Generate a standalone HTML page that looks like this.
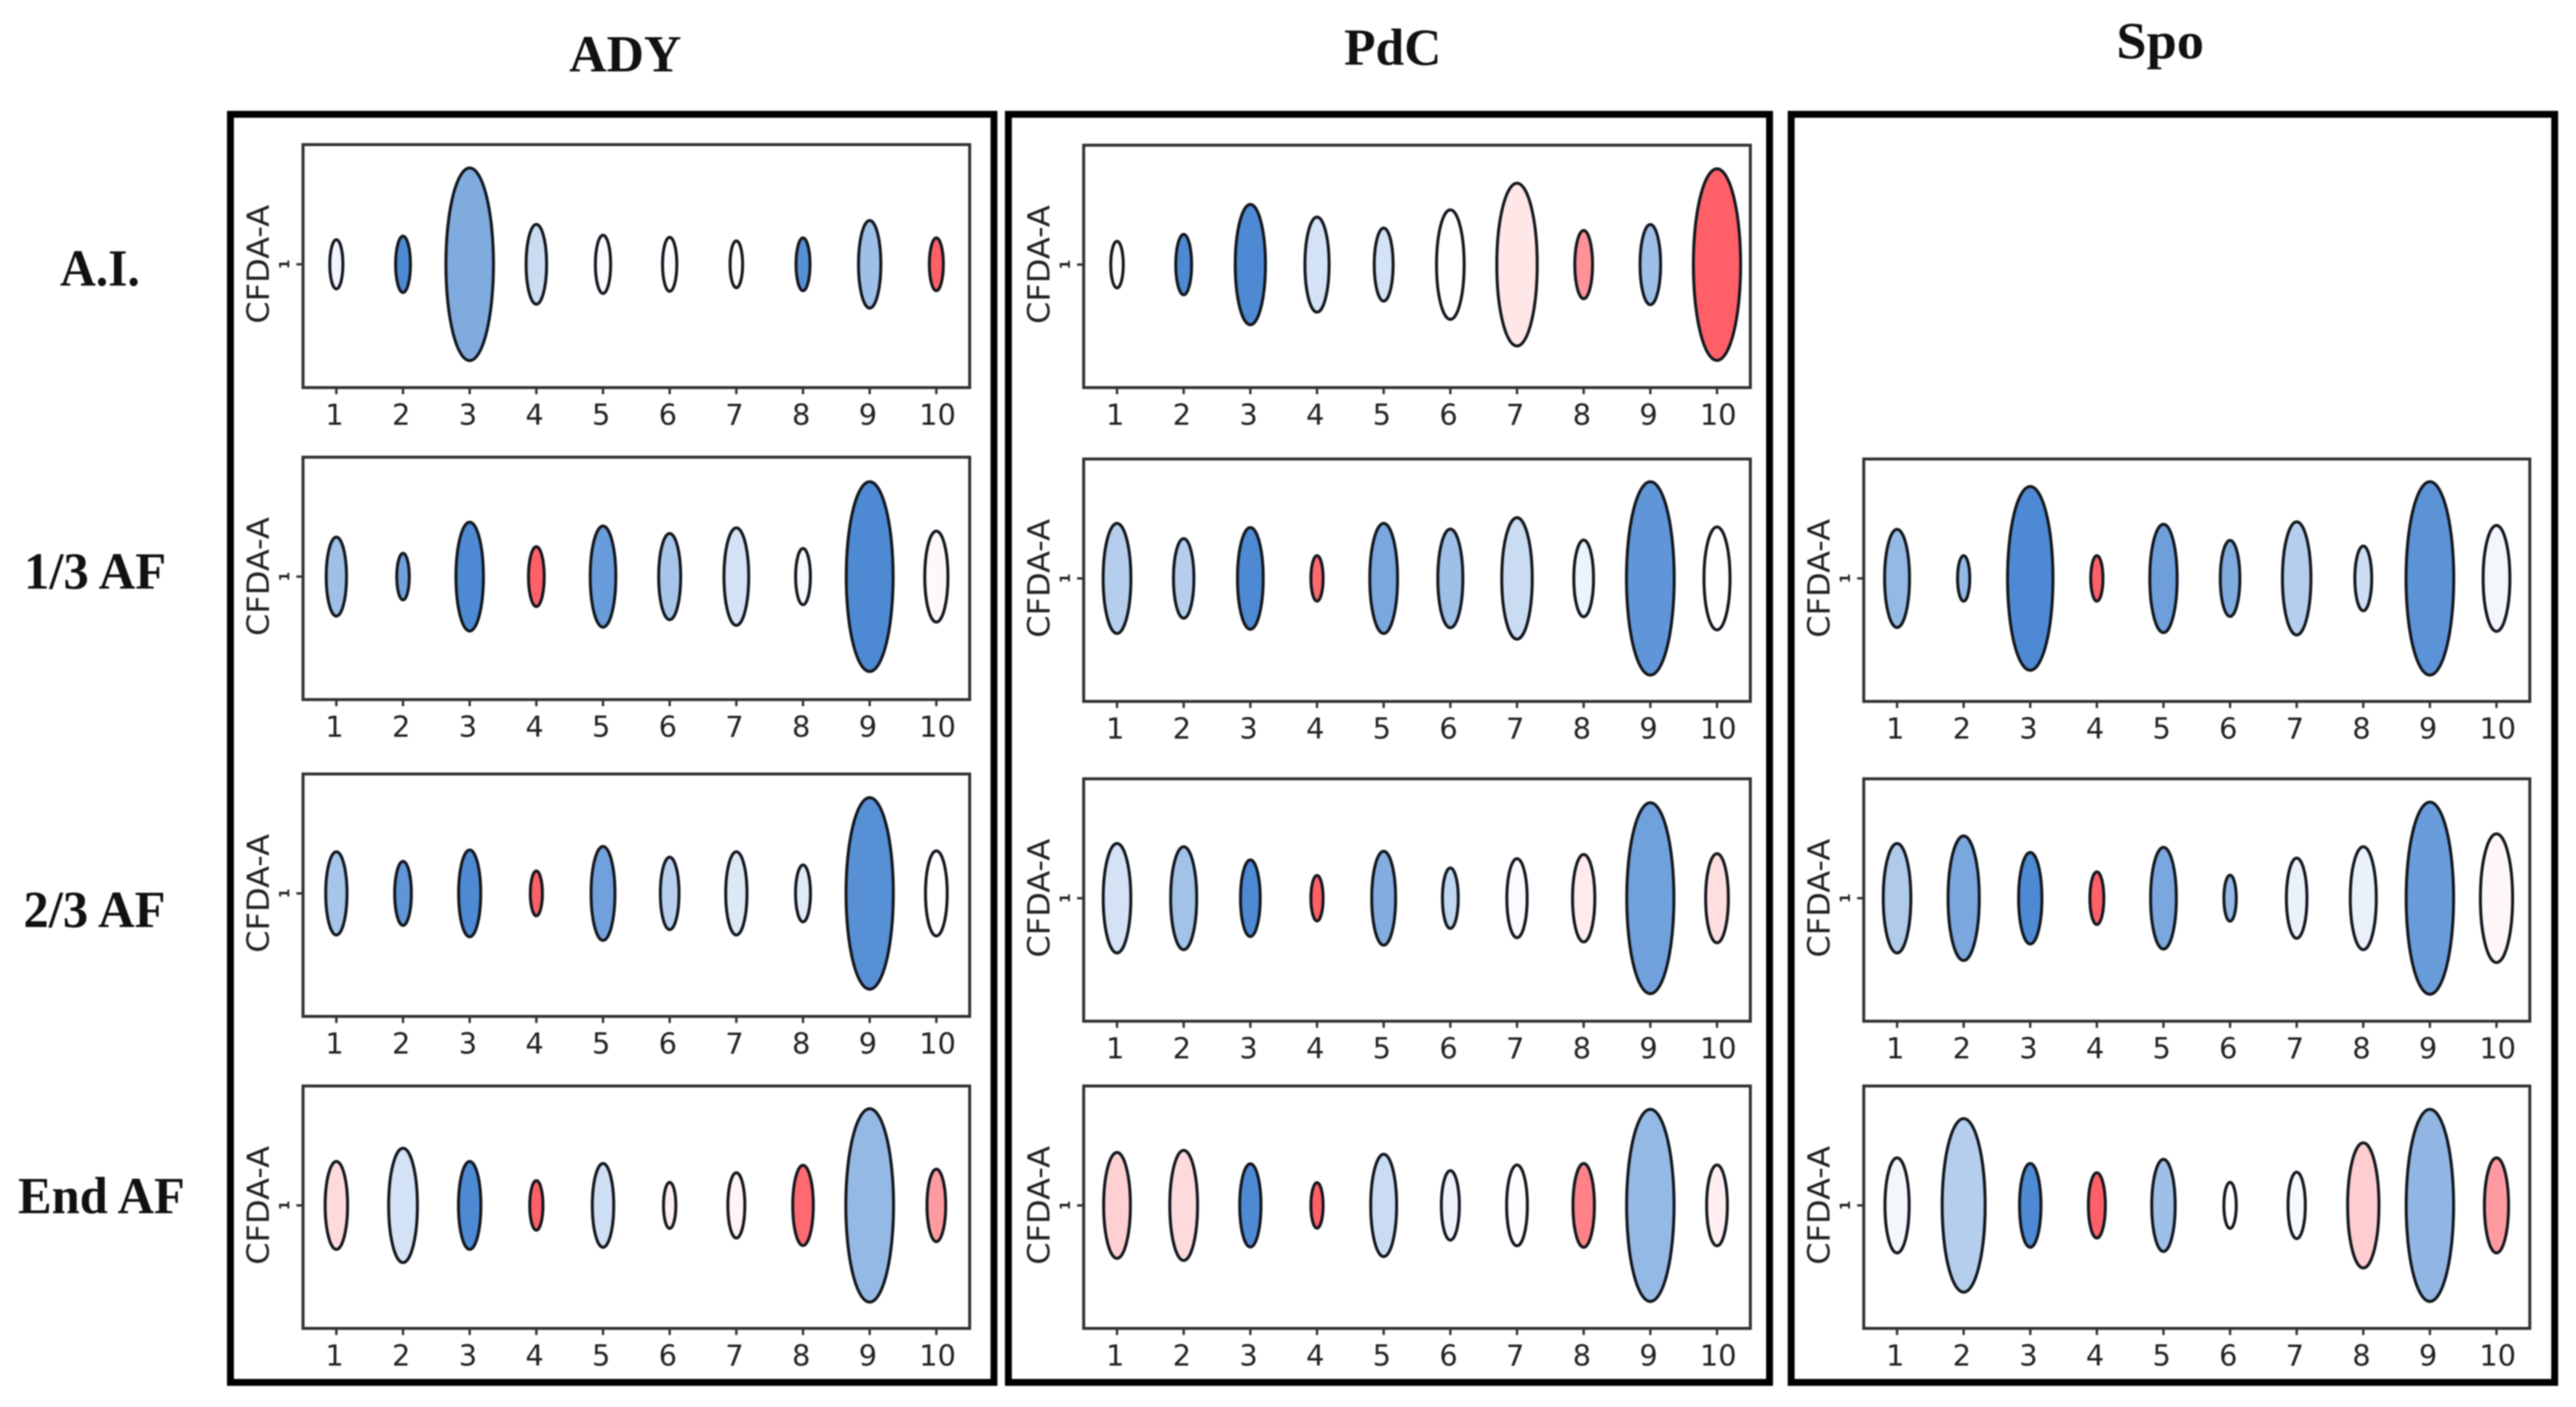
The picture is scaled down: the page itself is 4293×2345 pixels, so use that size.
<!DOCTYPE html>
<html lang="en">
<head>
<meta charset="utf-8">
<title>CFDA-A viability panels</title>
<style>
html,body{margin:0;padding:0;background:#fff;width:4293px;height:2345px;overflow:hidden}
svg{display:block;filter:blur(1px)}
.head{font-family:"Liberation Serif",serif;font-weight:bold;font-size:87px;fill:#111}
.tick{font-family:"DejaVu Sans",sans-serif;font-size:48px;fill:#222;text-anchor:middle}
.ylab{font-family:"DejaVu Sans",sans-serif;font-size:51px;fill:#222;text-anchor:middle}
.ytick{font-family:"DejaVu Sans",sans-serif;font-size:23px;font-weight:bold;fill:#222;text-anchor:middle}
</style>
</head>
<body>
<svg id="figure" xmlns="http://www.w3.org/2000/svg" width="4293" height="2345" viewBox="0 0 4293 2345">
  <rect x="0" y="0" width="4293" height="2345" fill="#fff"/>
  <text class="head" x="1042" y="119" text-anchor="middle" textLength="187" lengthAdjust="spacingAndGlyphs">ADY</text>
  <text class="head" x="2321" y="108" text-anchor="middle" textLength="162" lengthAdjust="spacingAndGlyphs">PdC</text>
  <text class="head" x="3600" y="97" text-anchor="middle" textLength="146" lengthAdjust="spacingAndGlyphs">Spo</text>
  <text class="head" x="100" y="476" textLength="133" lengthAdjust="spacingAndGlyphs">A.I.</text>
  <text class="head" x="40" y="981" textLength="237" lengthAdjust="spacingAndGlyphs">1/3 AF</text>
  <text class="head" x="39" y="1545" textLength="237" lengthAdjust="spacingAndGlyphs">2/3 AF</text>
  <text class="head" x="30" y="2022" textLength="278" lengthAdjust="spacingAndGlyphs">End AF</text>
  <rect x="384" y="190.5" width="1272.5" height="2113.5" fill="none" stroke="#000" stroke-width="11.5"/>
  <rect x="1680.5" y="190.5" width="1268.5" height="2113.5" fill="none" stroke="#000" stroke-width="11.5"/>
  <rect x="2985" y="190.5" width="1272.5" height="2113.5" fill="none" stroke="#000" stroke-width="11.5"/>
  <g id="plots"></g>
</svg>
<script>
// Categories and tick labels
const categories = [1, 2, 3, 4, 5, 6, 7, 8, 9, 10];
const tickLabels = ["1", "2", "3", "4", "5", "6", "7", "8", "9", "10"];
const yTickLabel = "1";
const yAxisTitle = "CFDA-A";

// Spread of each population (axis units, full y axis = 405)
const spreadAdyAI  = [87, 99, 326, 138, 102, 95, 83, 93, 151, 93];
const spreadAdy13  = [137, 83, 187, 105, 174, 149, 168, 99, 322, 157];
const spreadAdy23  = [144, 112, 150, 80, 162, 126, 144, 100, 325, 147];
const spreadAdyEnd = [152, 196, 152, 88, 145, 82, 114, 139, 328, 126];
const spreadPdcAI  = [83, 106, 206, 164, 127, 188, 277, 119, 139, 325];
const spreadPdc13  = [189, 138, 175, 81, 189, 170, 208, 133, 328, 177];
const spreadPdc23  = [188, 177, 133, 81, 162, 106, 137, 151, 324, 154];
const spreadPdcEnd = [182, 189, 144, 81, 176, 121, 140, 145, 326, 140];
const spreadSpo13  = [169, 81, 312, 81, 186, 132, 194, 113, 328, 182];
const spreadSpo23  = [188, 213, 158, 93, 175, 82, 139, 177, 326, 220];
const spreadSpoEnd = [164, 295, 145, 114, 159, 82, 116, 214, 326, 164];

// Diverging colour value of each population (-1 blue .. 0 white .. +1 red)
const shadeAdyAI  = [-0.08, -1, -0.72, -0.3, -0.03, -0.02, -0.01, -0.95, -0.55, 0.95];
const shadeAdy13  = [-0.55, -0.8, -1, 0.95, -0.85, -0.5, -0.25, -0.05, -1, 0.04];
const shadeAdy23  = [-0.5, -0.9, -1, 0.95, -0.8, -0.4, -0.2, -0.17, -0.95, 0];
const shadeAdyEnd = [0.22, -0.25, -1, 0.95, -0.27, 0.1, 0.07, 0.9, -0.6, 0.6];
const shadePdcAI  = [0, -1, -1, -0.25, -0.25, 0, 0.15, 0.65, -0.55, 0.95];
const shadePdc13  = [-0.42, -0.42, -1, 0.9, -0.75, -0.55, -0.3, -0.1, -0.9, 0];
const shadePdc23  = [-0.25, -0.52, -1, 0.95, -0.7, -0.35, -0.03, 0.12, -0.8, 0.2];
const shadePdcEnd = [0.28, 0.22, -1, 0.95, -0.3, -0.1, -0.02, 0.75, -0.6, 0.1];
const shadeSpo13  = [-0.6, -0.6, -1, 0.95, -0.82, -0.72, -0.42, -0.28, -0.92, -0.07];
const shadeSpo23  = [-0.45, -0.75, -1, 0.95, -0.75, -0.6, -0.12, -0.12, -0.85, 0.05];
const shadeSpoEnd = [-0.07, -0.42, -1, 0.95, -0.55, 0, -0.05, 0.3, -0.62, 0.6];

const yDomain = 405;
const xDomain = [0.5, 10.5];

const NS = "http://www.w3.org/2000/svg";
const root = document.getElementById("plots");

function svgEl(tag, attrs, parent) {
  const el = document.createElementNS(NS, tag);
  for (const k in attrs) el.setAttribute(k, attrs[k]);
  parent.appendChild(el);
  return el;
}
function xScale(cat, box) {
  return box.x0 + (cat - xDomain[0]) / (xDomain[1] - xDomain[0]) * (box.x1 - box.x0);
}
function yLength(v, box) {
  return v / yDomain * (box.y1 - box.y0);
}
function shadeColor(v) {
  const target = v < 0 ? [78, 138, 211] : [255, 88, 96];
  const t = Math.min(1, Math.abs(v));
  const c = target.map(function (ch) { return Math.round(255 + (ch - 255) * t); });
  return "rgb(" + c.join(",") + ")";
}

function drawPanel(name, box, spread, shade) {
  const g = svgEl("g", {}, root);
  
  

  const cy = (box.y0 + box.y1) / 2 - 3;

  categories.forEach(function (cat, i) {
    const h = yLength(spread[i], box);
    const w = 6 + 0.24 * h;
    const cell = svgEl("ellipse", {
      cx: xScale(cat, box), cy: cy,
      rx: Math.max(1, w / 2 - 2.5), ry: Math.max(1, h / 2 - 2.5),
      fill: shadeColor(shade[i]), stroke: "#14181f", "stroke-width": 5
    }, g);
    
    

    const tick = svgEl("line", {
      x1: xScale(cat, box), x2: xScale(cat, box),
      y1: box.y1, y2: box.y1 + 11, stroke: "#333", "stroke-width": 4
    }, g);
    
    

    const labelShift = tickLabels[i].length > 1 ? 2 : -3;
    const lab = svgEl("text", { x: xScale(cat, box) + labelShift, y: box.y1 + 62, class: "tick" }, g);
    
    
    lab.textContent = tickLabels[i];
  });

  const frame = svgEl("rect", {
    x: box.x0, y: box.y0, width: box.x1 - box.x0, height: box.y1 - box.y0,
    fill: "none", stroke: "#333", "stroke-width": 5
  }, g);
  
  

  const yTick = svgEl("line", {
    x1: box.x0 - 11, x2: box.x0, y1: cy, y2: cy, stroke: "#333", "stroke-width": 4
  }, g);
  
  

  const yLab = svgEl("text", {
    class: "ytick", transform: "translate(" + (box.x0 - 23) + " " + cy + ") rotate(-90)"
  }, g);
  
  
  yLab.textContent = yTickLabel;

  const title = svgEl("text", {
    class: "ylab", textLength: 198, lengthAdjust: "spacingAndGlyphs",
    transform: "translate(" + (box.x0 - 57) + " " + cy + ") rotate(-90)"
  }, g);
  
  
  title.textContent = yAxisTitle;
}

const colA = { x0: 505, x1: 1616 };
const colB = { x0: 1806, x1: 2917 };
const colC = { x0: 3106, x1: 4216 };
function box(col, y0, y1) { return { x0: col.x0, x1: col.x1, y0: y0, y1: y1 }; }

drawPanel("panel-ady-ai",  box(colA, 241, 646),   spreadAdyAI,  shadeAdyAI);
drawPanel("panel-ady-1-3", box(colA, 762, 1166),  spreadAdy13,  shadeAdy13);
drawPanel("panel-ady-2-3", box(colA, 1290, 1694), spreadAdy23,  shadeAdy23);
drawPanel("panel-ady-end", box(colA, 1810, 2214), spreadAdyEnd, shadeAdyEnd);
drawPanel("panel-pdc-ai",  box(colB, 242, 646),   spreadPdcAI,  shadePdcAI);
drawPanel("panel-pdc-1-3", box(colB, 765, 1169),  spreadPdc13,  shadePdc13);
drawPanel("panel-pdc-2-3", box(colB, 1298, 1702), spreadPdc23,  shadePdc23);
drawPanel("panel-pdc-end", box(colB, 1810, 2214), spreadPdcEnd, shadePdcEnd);
drawPanel("panel-spo-1-3", box(colC, 765, 1169),  spreadSpo13,  shadeSpo13);
drawPanel("panel-spo-2-3", box(colC, 1298, 1702), spreadSpo23,  shadeSpo23);
drawPanel("panel-spo-end", box(colC, 1810, 2214), spreadSpoEnd, shadeSpoEnd);
</script>
</body>
</html>
